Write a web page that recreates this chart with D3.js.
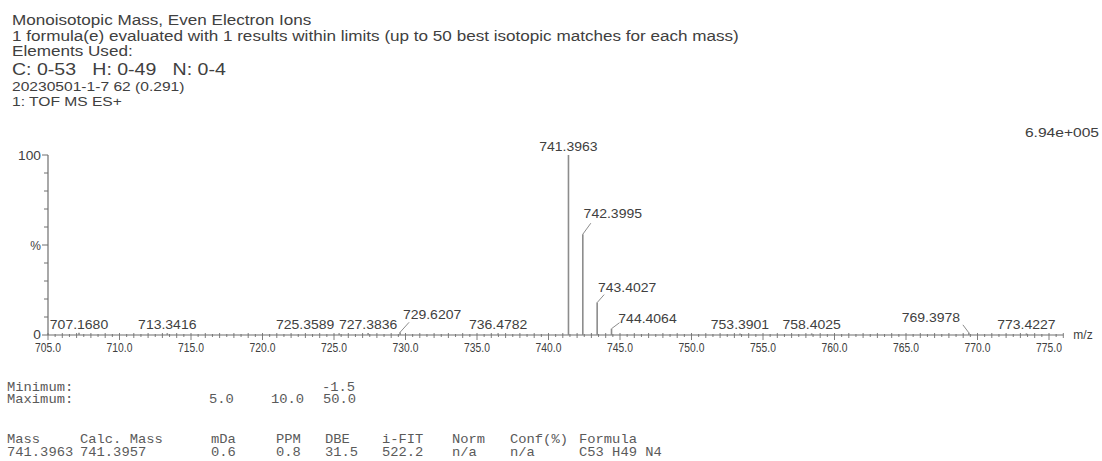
<!DOCTYPE html>
<html>
<head>
<meta charset="utf-8">
<script src="https://cdn.jsdelivr.net/npm/d3@7"></script>
<style>
  html, body { margin: 0; padding: 0; background: #fff; }
  svg { display: block; }
  text { font-family: "Liberation Sans", Arial, sans-serif; fill: #404040; white-space: pre; }
  .mono { font-family: "Liberation Mono", "DejaVu Sans Mono", monospace; fill: #5a5a5a; }
</style>
</head>
<body>
<svg id="chart" width="1102" height="461"></svg>
<script>
// ---- report header ----
const headerLines = [
  "Monoisotopic Mass, Even Electron Ions",
  "1 formula(e) evaluated with 1 results within limits (up to 50 best isotopic matches for each mass)",
  "Elements Used:"
];
const elementRanges = "C: 0-53   H: 0-49   N: 0-4";
const sampleLines = ["20230501-1-7 62 (0.291)", "1: TOF MS ES+"];
const baseIntensity = "6.94e+005";

// ---- spectrum: labelled centroid peaks (m/z, relative intensity %) ----
const peakMz        = [707.1680, 713.3416, 725.3589, 727.3836, 729.6207, 736.4782,
                       741.3963, 742.3995, 743.4027, 744.4064, 753.3901, 758.4025,
                       769.3978, 773.4227];
const peakIntensity = [1.2, 1.0, 1.0, 1.1, 1.5, 1.0,
                       100, 56, 18, 3.5, 0.9, 0.9,
                       1.2, 0.9];

// ---- axes ----
const xTicks = [705, 710, 715, 720, 725, 730, 735, 740, 745, 750, 755, 760, 765, 770, 775];
const yTicks = [0, 10, 20, 30, 40, 50, 60, 70, 80, 90, 100];
const xDomain = [705, 775];
const yDomain = [0, 100];

// ---- elemental composition table ----
const limitLabels = ["Minimum:", "Maximum:"];
const limitMin = { DBE: "-1.5" };
const limitMax = { mDa: "5.0", PPM: "10.0", DBE: "50.0" };
const resultColumns = ["Mass", "Calc. Mass", "mDa", "PPM", "DBE", "i-FIT", "Norm", "Conf(%)", "Formula"];
const resultRow     = ["741.3963", "741.3957", "0.6", "0.8", "31.5", "522.2", "n/a", "n/a", "C53 H49 N4"];

// ---------------------------------------------------------------
const svg = d3.select("#chart");

// text drawn with a horizontal scale factor (report fonts are widened)
function stext(parent, x, y, str, opt = {}) {
  const g = parent.append("g")
    .attr("transform", `translate(${x},${y}) scale(${opt.sx ?? 1.15},1)`);
  const t = g.append("text")
    .attr("text-anchor", opt.anchor || "start")
    .style("font-size", (opt.size || 12) + "px")
    .text(str);
  if (opt.cls) t.attr("class", opt.cls);
  if (opt.fill) t.style("fill", opt.fill);
  return t;
}

// header block
headerLines.forEach((s, i) => stext(svg, 12, 25 + i * 15.5, s, { size: 14.5, sx: 1.18 }));
stext(svg, 12, 75, elementRanges, { size: 17 });
sampleLines.forEach((s, i) => stext(svg, 12, 90.5 + i * 15, s, { size: 13, sx: 1.2 }));

// scales
const x = d3.scaleLinear().domain(xDomain).range([48, 1049]);
const y = d3.scaleLinear().domain(yDomain).range([335, 155]);
const axisColor = "#6f6f6f";
const x0 = x(xDomain[0]);

// y axis
const yAx = svg.append("g");
yAx.append("line")
  .attr("x1", x0).attr("x2", x0)
  .attr("y1", y(0)).attr("y2", y(100))
  .attr("stroke", axisColor).attr("stroke-width", 1.2);
yAx.selectAll("line.tk").data(yTicks).join("line").attr("class", "tk")
  .attr("x1", d => x0 - (d === 0 || d === 100 || d === 50 ? 6 : 4))
  .attr("x2", x0)
  .attr("y1", d => y(d)).attr("y2", d => y(d))
  .attr("stroke", axisColor).attr("stroke-width", 1);
stext(svg, x0 - 7, y(100) + 4.5, "100", { size: 12.5, anchor: "end", sx: 1.1 });
stext(svg, x0 - 7, y(0) + 3.5, "0", { size: 12.5, anchor: "end", sx: 1.1 });
stext(svg, x0 - 7, y(50) + 4.5, "%", { size: 12, anchor: "end", sx: 1.0 });

// x axis
const xAx = svg.append("g");
xAx.append("line")
  .attr("x1", x0).attr("x2", x(776))
  .attr("y1", y(0)).attr("y2", y(0))
  .attr("stroke", axisColor).attr("stroke-width", 1.2);
const minor = d3.range(xDomain[0], 776.01, 0.5);
xAx.selectAll("line.mt").data(minor).join("line").attr("class", "mt")
  .attr("x1", d => x(d)).attr("x2", d => x(d))
  .attr("y1", d => y(0) - (Number.isInteger(d) ? 2 : 1))
  .attr("y2", d => y(0) + (d % 5 === 0 ? 5 : Number.isInteger(d) ? 3 : 2))
  .attr("stroke", axisColor).attr("stroke-width", 0.9);
xTicks.forEach(t => stext(xAx, x(t), y(0) + 16.5, t.toFixed(1), { size: 12, anchor: "middle", sx: 0.86 }));
stext(svg, x(776) + 10, y(0) + 4, "m/z", { size: 12, sx: 1.0 });

// base peak intensity
stext(svg, 1099, 137, baseIntensity, { size: 13, anchor: "end", sx: 1.2 });

// peaks
const peaks = peakMz.map((m, i) => ({ mz: m, v: peakIntensity[i] }));
svg.append("g").selectAll("line").data(peaks).join("line")
  .attr("x1", d => x(d.mz)).attr("x2", d => x(d.mz))
  .attr("y1", y(0)).attr("y2", d => y(d.v))
  .attr("stroke", "#8c8c8c").attr("stroke-width", 1.6);

// label placement for crowded peaks: label centre offset and leader end offset
const labelShift = {
  "725.3589": { dx: -34, dy: 0 },
  "729.6207": { dx: 32, dy: -9, leader: [9, -10] },
  "742.3995": { dx: 30, dy: -12, leader: [8, -11] },
  "743.4027": { dx: 30, dy: -7, leader: [7, -8] },
  "744.4064": { dx: 36, dy: -2, leader: [8, -6] },
  "769.3978": { dx: -38, dy: -7, leader: [-6, -8] }
};
const lab = svg.append("g");
peaks.forEach(p => {
  const key = p.mz.toFixed(4);
  const s = labelShift[key] || { dx: 0, dy: 0 };
  const px = x(p.mz), py = y(p.v);
  if (s.leader) {
    lab.append("line")
      .attr("x1", px).attr("y1", py)
      .attr("x2", px + s.leader[0]).attr("y2", py + s.leader[1])
      .attr("stroke", "#8c8c8c").attr("stroke-width", 1);
  }
  stext(lab, px + s.dx, py - 4 + s.dy, key, { size: 12.5, anchor: "middle", sx: 1.12 });
});

// composition table
const colX = { Mass: 7, "Calc. Mass": 80, mDa: 211, PPM: 276, DBE: 325, "i-FIT": 382,
               Norm: 452, "Conf(%)": 510, Formula: 579 };
const tb = svg.append("g");
const mono = { size: 12, cls: "mono", sx: 1.15 };
stext(tb, 7, 391, limitLabels[0], mono);
stext(tb, 7, 403, limitLabels[1], mono);
Object.entries(limitMin).forEach(([k, v]) => stext(tb, colX[k] - 3, 391, v, mono));
Object.entries(limitMax).forEach(([k, v]) => stext(tb, colX[k] - (k === "PPM" ? 5 : 2), 403, v, mono));
resultColumns.forEach((c, i) => {
  stext(tb, colX[c], 443, c, mono);
  stext(tb, colX[c], 456, resultRow[i], mono);
});
</script>
</body>
</html>
